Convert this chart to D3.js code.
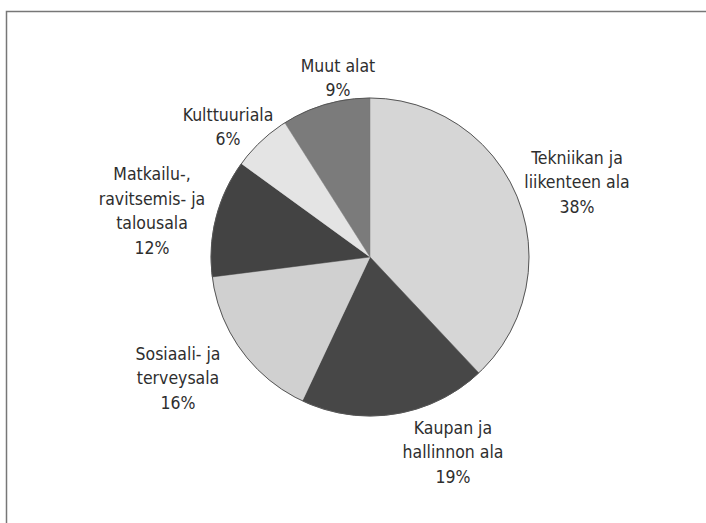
<!DOCTYPE html>
<html>
<head>
<meta charset="utf-8">
<script src="https://cdn.jsdelivr.net/npm/d3@7.9.0/dist/d3.min.js"></script>
<style>
  html, body { margin: 0; padding: 0; background: #fff; }
  svg { display: block; }
  text { font-family: "DejaVu Sans Condensed", "Liberation Sans Narrow", sans-serif; fill: #2e2e2e; }
</style>
</head>
<body>
<div id="chart"></div>
<script>
// Data, clockwise from 12 o'clock
const categories = [
    'Tekniikan ja liikenteen ala',
    'Kaupan ja hallinnon ala',
    'Sosiaali- ja terveysala',
    'Matkailu-, ravitsemis- ja talousala',
    'Kulttuuriala',
    'Muut alat',
];
const shares = [38, 19, 16, 12, 6, 9];
// How each label breaks into lines
const labelLines = [
    ['Tekniikan ja', 'liikenteen ala'],
    ['Kaupan ja', 'hallinnon ala'],
    ['Sosiaali- ja', 'terveysala'],
    ['Matkailu-,', 'ravitsemis- ja', 'talousala'],
    ['Kulttuuriala'],
    ['Muut alat'],
];

// Slice fills (grey tones of the print)
const fills = ['#d6d6d6', '#474747', '#d0d0d0', '#434343', '#e4e4e4', '#7b7b7b'];
// Label block centres, relative to the pie centre
const labelOffsets = [[207, -75], [83, 195], [-192, 121], [-218, -46], [-142, -130], [-32, -179]];

const width = 706;
const height = 523;
const cx = 370;
const cy = 257;
const radius = 159;
const lineHeight = 24.5;

const svg = d3.select('#chart')
    .append('svg')
    .attr('width', width)
    .attr('height', height);

// Frame (only top and left edges are visible in the crop)
svg.append('path')
    .attr('d', `M6.5,${height} V11.5 H${width}`)
    .attr('fill', 'none')
    .attr('stroke', '#777')
    .attr('stroke-width', 1.5);

const pie = d3.pie().sort(null).value((d) => d);
const arcs = pie(shares);
const arc = d3.arc().innerRadius(0).outerRadius(radius);

const g = svg.append('g').attr('transform', `translate(${cx},${cy})`);

g.selectAll('path.slice')
    .data(arcs)
    .join('path')
    .attr('class', 'slice')
    .attr('d', arc)
    .attr('fill', (d, i) => fills[i])
    .attr('stroke', (d, i) => fills[i])
    .attr('stroke-width', 0.5);

// Thin outline round the pie
g.append('circle')
    .attr('r', radius)
    .attr('fill', 'none')
    .attr('stroke', '#555')
    .attr('stroke-width', 1);

// Labels: name lines + percentage
const labels = g.selectAll('text.label')
    .data(arcs)
    .join('text')
    .attr('class', 'label')
    .attr('text-anchor', 'middle')
    .attr('font-size', 17.5);

labels.each(function (d, i) {
    const lines = [...labelLines[i], d3.format('d')(shares[i]) + '%'];
    const [ox, oy] = labelOffsets[i];
    const top = oy - ((lines.length - 1) * lineHeight) / 2;
    const t = d3.select(this);
    lines.forEach((line, k) => {
        t.append('tspan')
            .attr('x', ox)
            .attr('y', top + k * lineHeight)
            .attr('dy', '0.35em')
            .text(line);
    });
});
</script>
</body>
</html>
